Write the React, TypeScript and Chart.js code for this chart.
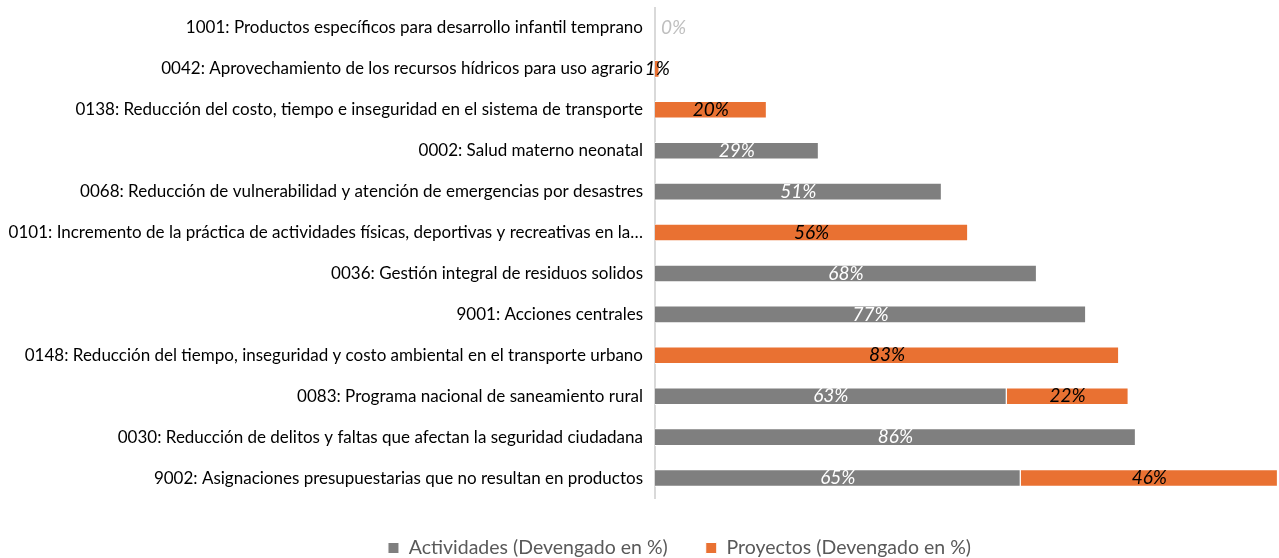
import React, { useEffect, useRef } from "react";
import { Chart, registerables } from "chart.js";

Chart.register(...registerables);

const categories = [
  "1001: Productos específicos para desarrollo infantil temprano",
  "0042: Aprovechamiento de los recursos hídricos para uso agrario",
  "0138: Reducción del costo, tiempo e inseguridad en el sistema de transporte",
  "0002: Salud materno neonatal",
  "0068: Reducción de vulnerabilidad y atención de emergencias por desastres",
  "0101: Incremento de la práctica de actividades físicas, deportivas y recreativas en la…",
  "0036: Gestión integral de residuos solidos",
  "9001: Acciones centrales",
  "0148: Reducción del tiempo, inseguridad y costo ambiental en el transporte urbano",
  "0083: Programa nacional de saneamiento rural",
  "0030: Reducción de delitos y faltas que afectan la seguridad ciudadana",
  "9002: Asignaciones presupuestarias que no resultan en productos",
];

const actividades: (number | null)[] = [0, null, null, 29.3, 51.3, null, 68.3, 77.1, null, 62.9, 86.0, 65.4];
const proyectos: (number | null)[] = [null, 0.8, 20.0, null, null, 56.0, null, null, 83.0, 21.8, null, 46.0];

const seriesNames = ["Actividades (Devengado en %)", "Proyectos (Devengado en %)"];
const seriesColors = ["#7f7f7f", "#e97132"];
const labelColors = ["#ffffff", "#000000"];

const FONT = "Lato, 'Open Sans', sans-serif";

const barLabels = {
  id: "barLabels",
  afterDatasetsDraw(chart: any) {
    const ctx = chart.ctx;
    chart.data.datasets.forEach((ds: any, di: number) => {
      const meta = chart.getDatasetMeta(di);
      meta.data.forEach((bar: any, i: number) => {
        const v = ds.data[i];
        if (v === null || v === undefined) return;
        const { x, y, base } = bar.getProps(["x", "y", "base"], true);
        const text = Math.round(v) + "%";
        ctx.save();
        ctx.font = `italic 19px ${FONT}`;
        ctx.textBaseline = "middle";
        if (v === 0) {
          ctx.fillStyle = "#bfbfbf";
          ctx.textAlign = "left";
          ctx.fillText(text, base + 6, y);
        } else {
          ctx.fillStyle = labelColors[di];
          ctx.textAlign = "center";
          ctx.fillText(text, (x + base) / 2, y);
        }
        ctx.restore();
      });
    });
  },
};

const legendShift = {
  id: "legendShift",
  afterLayout(chart: any) {
    const l = chart.legend;
    if (!l) return;
    l.left += 40;
    l.right += 40;
    l.top += 1.75;
    l.bottom += 1.75;
  },
};

export default function App() {
  const ref = useRef<HTMLCanvasElement>(null);
  useEffect(() => {
    if (!ref.current) return;
    const chart = new Chart(ref.current, {
      type: "bar",
      data: {
        labels: categories,
        datasets: [
          {
            label: seriesNames[0],
            data: actividades,
            backgroundColor: seriesColors[0],
            borderColor: "#ffffff",
            borderWidth: 1,
            barPercentage: 0.43,
            categoryPercentage: 1,
          },
          {
            label: seriesNames[1],
            data: proyectos,
            backgroundColor: seriesColors[1],
            borderColor: "#ffffff",
            borderWidth: 1,
            barPercentage: 0.43,
            categoryPercentage: 1,
          },
        ],
      },
      options: {
        indexAxis: "y",
        responsive: false,
        animation: false,
        layout: { autoPadding: false, padding: { top: 7.5, bottom: -8, left: 0, right: 0 } },
        scales: {
          x: {
            stacked: true,
            display: false,
            min: 0,
            max: 111.6,
          },
          y: {
            stacked: true,
            grid: { display: false },
            border: { display: true, color: "#d9d9d9", width: 2 },
            ticks: {
              color: "#000000",
              padding: 4,
              font: { family: FONT, size: 17 },
            },
            afterFit(scale: any) {
              scale.width = 655;
              scale.paddingTop = 0;
              scale.paddingBottom = 0;
            },
          },
        },
        plugins: {
          tooltip: { enabled: false },
          legend: {
            position: "bottom",
            labels: {
              color: "#595959",
              boxWidth: 11,
              boxHeight: 11,
              padding: 38,
              font: { family: FONT, size: 19.5 },
            },
          },
        },
      },
      plugins: [barLabels, legendShift],
    });
    return () => chart.destroy();
  }, []);
  return (
    <div style={{ position: "fixed", left: 0, top: 0, width: 1279, height: 558, background: "#fff" }}>
      <canvas ref={ref} width={1279} height={558} />
    </div>
  );
}
